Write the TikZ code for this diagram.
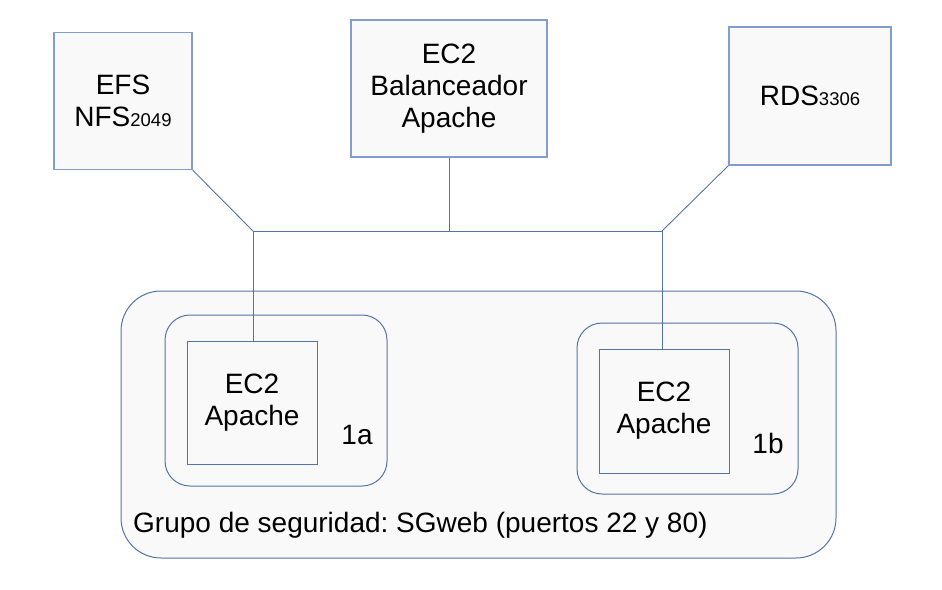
\documentclass[tikz,border=0pt]{standalone}
\usepackage{fontspec}
\setmainfont{Liberation Sans}
\frenchspacing
\definecolor{frameblue}{RGB}{84,116,168}
\definecolor{lightblue}{RGB}{128,158,206}
\definecolor{boxfill}{RGB}{249,249,249}
\begin{document}
\begin{tikzpicture}[x=1pt,y=-1pt,
  every node/.style={font=\fontsize{28}{32}\selectfont, align=center, inner sep=0pt},
  topbox/.style={draw=lightblue, line width=1.3pt, fill=boxfill},
  ecbox/.style={draw=frameblue, line width=1pt, fill=boxfill},
  zone/.style={draw=frameblue, line width=1pt, fill=boxfill},
  link/.style={draw=frameblue, line width=0.9pt}]
\useasboundingbox (0,0) rectangle (942,589);
\newcommand{\subtxt}[1]{{\fontsize{18.5}{18.5}\selectfont #1}}
% security group and zones
\draw[zone, rounded corners=40pt] (121,291) rectangle (836,558);
\draw[zone, rounded corners=25pt] (165,315) rectangle (387,486);
\draw[zone, rounded corners=25pt] (577,323) rectangle (798,494);
% top boxes
\node[topbox, minimum width=138pt, minimum height=137pt] (efs) at (123,101) {EFS\\NFS\subtxt{2049}};
\node[topbox, minimum width=196pt, minimum height=137pt] (bal) at (449,88.5) {EC2\\Balanceador\\Apache};
\node[topbox, minimum width=162pt, minimum height=138pt] (rds) at (810,96) {RDS\subtxt{3306}};
% EC2 instances
\node[ecbox, minimum width=130pt, minimum height=123pt] (ec2a) at (252,402.5) {EC2\\Apache};
\node[ecbox, minimum width=130pt, minimum height=124pt] (ec2b) at (664,411) {EC2\\Apache};
% labels
\node (la) at (357,435) {1a};
\node (lb) at (768,443) {1b};
\node[anchor=base west] (sg) at (133,532) {Grupo de seguridad: SGweb (puertos 22 y 80)};
% junctions
\coordinate (j1) at (253,231);
\coordinate (j2) at (449,231);
\coordinate (j3) at (662,231);
% connectors
\draw[link] (efs.south east) -- (j1);
\draw[link] (rds.south west) -- (j3);
\draw[link] (bal.south) -- (j2);
\draw[link] (j1) -- (j3);
\draw[link] (j1) -- (j1 |- ec2a.north);
\draw[link] (j3) -- (j3 |- ec2b.north);
\end{tikzpicture}
\end{document}
